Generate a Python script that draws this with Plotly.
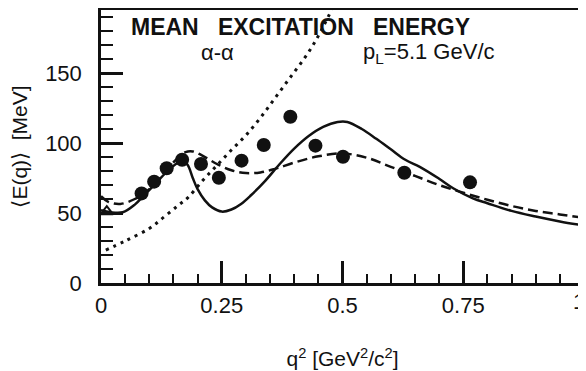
import plotly.graph_objects as go

# ---- data ----
data_q2 = [0.084, 0.110, 0.136, 0.168, 0.207, 0.244, 0.291, 0.337, 0.392, 0.444, 0.501, 0.628, 0.764]
data_E = [64, 72.4, 82, 88, 85, 75.2, 87.4, 98.6, 118.8, 98.1, 90.2, 78.8, 71.9]

tri_q2 = [0.012]
tri_E = [51]

solid_q2 = [0, 0.02, 0.045, 0.07, 0.09, 0.11, 0.135, 0.155, 0.17, 0.18, 0.19, 0.2, 0.215, 0.23,
            0.25, 0.27, 0.29, 0.31, 0.34, 0.37, 0.4, 0.43, 0.46, 0.49, 0.51, 0.54, 0.57, 0.6,
            0.63, 0.66, 0.7, 0.73, 0.77, 0.8, 0.85, 0.9, 0.95, 1.0]
solid_E = [52, 50.5, 50.5, 56, 63, 70, 79, 85, 87.5, 84, 75, 67, 59, 54,
           51, 52.5, 56.5, 62.5, 73, 85, 96, 105, 111.5, 115, 115, 110, 103, 95.5,
           88, 83, 74.5, 67.5, 60.5, 57, 51.5, 47.5, 44, 41]

dash_q2 = [0, 0.015, 0.04, 0.07, 0.1, 0.13, 0.155, 0.175, 0.19, 0.21, 0.24, 0.27, 0.3, 0.33,
           0.36, 0.4, 0.45, 0.5, 0.55, 0.6, 0.65, 0.7, 0.75, 0.8, 0.85, 0.9, 0.95, 1.0]
dash_E = [62, 58, 56.5, 60, 67, 78, 88, 93.5, 94, 91, 85, 80.5, 78.5, 79,
          81.5, 86, 90.5, 92.5, 89.5, 83, 76.5, 70, 64.5, 59.5, 55, 51.5, 49, 46.5]

dot_q2 = [0.01, 0.05, 0.1, 0.13, 0.16, 0.18, 0.21, 0.24, 0.27, 0.3, 0.33, 0.36, 0.39, 0.42,
          0.44, 0.46, 0.48]
dot_E = [23.5, 30, 39, 47, 55.5, 61, 73, 84, 95, 105.5, 118, 132, 146, 160,
         170.5, 183, 197]

x_tickvals = [0, 0.25, 0.5, 0.75, 1]
x_ticktext = ["0", "0.25", "0.5", "0.75", ""]
x_last_label = "1"
y_tickvals = [0, 50, 100, 150]
y_ticktext = ["0", "50", "100", "150"]

INK = "#111111"
FONT = "Liberation Sans"
NB = "\u00a0"

fig = go.Figure()
fig.add_trace(go.Scatter(x=dot_q2, y=dot_E, mode="lines", line_shape="spline",
                         line=dict(color=INK, width=3, dash="3px,5px"), hoverinfo="skip"))
fig.add_trace(go.Scatter(x=dash_q2, y=dash_E, mode="lines", line_shape="spline",
                         line=dict(color=INK, width=2.5, dash="10px,5px"), hoverinfo="skip"))
fig.add_trace(go.Scatter(x=solid_q2, y=solid_E, mode="lines", line_shape="spline",
                         line=dict(color=INK, width=2.5), hoverinfo="skip"))
fig.add_trace(go.Scatter(x=data_q2, y=data_E, mode="markers",
                         marker=dict(color=INK, size=14, line=dict(width=0))))
fig.add_trace(go.Scatter(x=tri_q2, y=tri_E, mode="markers",
                         marker=dict(color=INK, size=11, symbol="triangle-up-open",
                                     line=dict(width=2, color=INK))))

# the page body has an 8px margin, so the figure is 8px smaller than the window
fig.update_layout(
    width=578, height=363,
    margin=dict(l=93, r=2, t=2, b=88),
    paper_bgcolor="white", plot_bgcolor="white",
    showlegend=False,
    font=dict(family=FONT, color=INK, size=20),
    xaxis=dict(range=[0, 1], tickvals=x_tickvals, ticktext=x_ticktext,
               ticks="inside", ticklen=22, tickwidth=2.5, tickcolor=INK,
               minor=dict(dtick=0.05, ticks="inside", ticklen=9, tickwidth=2, tickcolor=INK),
               showline=True, linewidth=2.5, linecolor=INK, mirror=True,
               showgrid=False, zeroline=False, automargin=False,
               tickfont=dict(size=22), ticklabelstandoff=1,
               title=dict(text="q<sup>2</sup> [GeV<sup>2</sup>/c<sup>2</sup>]",
                          font=dict(size=21), standoff=35)),
    yaxis=dict(range=[0, 195], tickvals=y_tickvals, ticktext=y_ticktext,
               ticks="inside", ticklen=22, tickwidth=2.5, tickcolor=INK,
               minor=dict(dtick=10, ticks="inside", ticklen=12, tickwidth=2, tickcolor=INK),
               showline=True, linewidth=2.5, linecolor=INK, mirror=True,
               showgrid=False, zeroline=False, automargin=False,
               tickfont=dict(size=22), ticklabelstandoff=12,
               title=dict(text="⟨E(q)⟩" + NB * 2 + "[MeV]", font=dict(size=21), standoff=14)),
)

fig.add_annotation(x=1, y=0, xref="x", yref="paper", yanchor="top", yshift=-4,
                   xanchor="right", xshift=3,
                   showarrow=False, text=x_last_label, font=dict(size=22, color=INK, family=FONT))
fig.add_annotation(x=0.414, y=182.9, xref="x", yref="y", showarrow=False, borderpad=0,
                   text="<b>MEAN" + NB * 3 + "EXCITATION" + NB * 3 + "ENERGY</b>",
                   font=dict(size=23, color=INK, family=FONT))
fig.add_annotation(x=0.242, y=164.3, xref="x", yref="y", showarrow=False, borderpad=0,
                   text="α-α", font=dict(size=22, color=INK, family=FONT))
fig.add_annotation(x=0.68, y=164.3, xref="x", yref="y", showarrow=False, borderpad=0,
                   text="p<sub>L</sub>=5.1 GeV/c", font=dict(size=22, color=INK, family=FONT))

fig.write_html("out.html")
